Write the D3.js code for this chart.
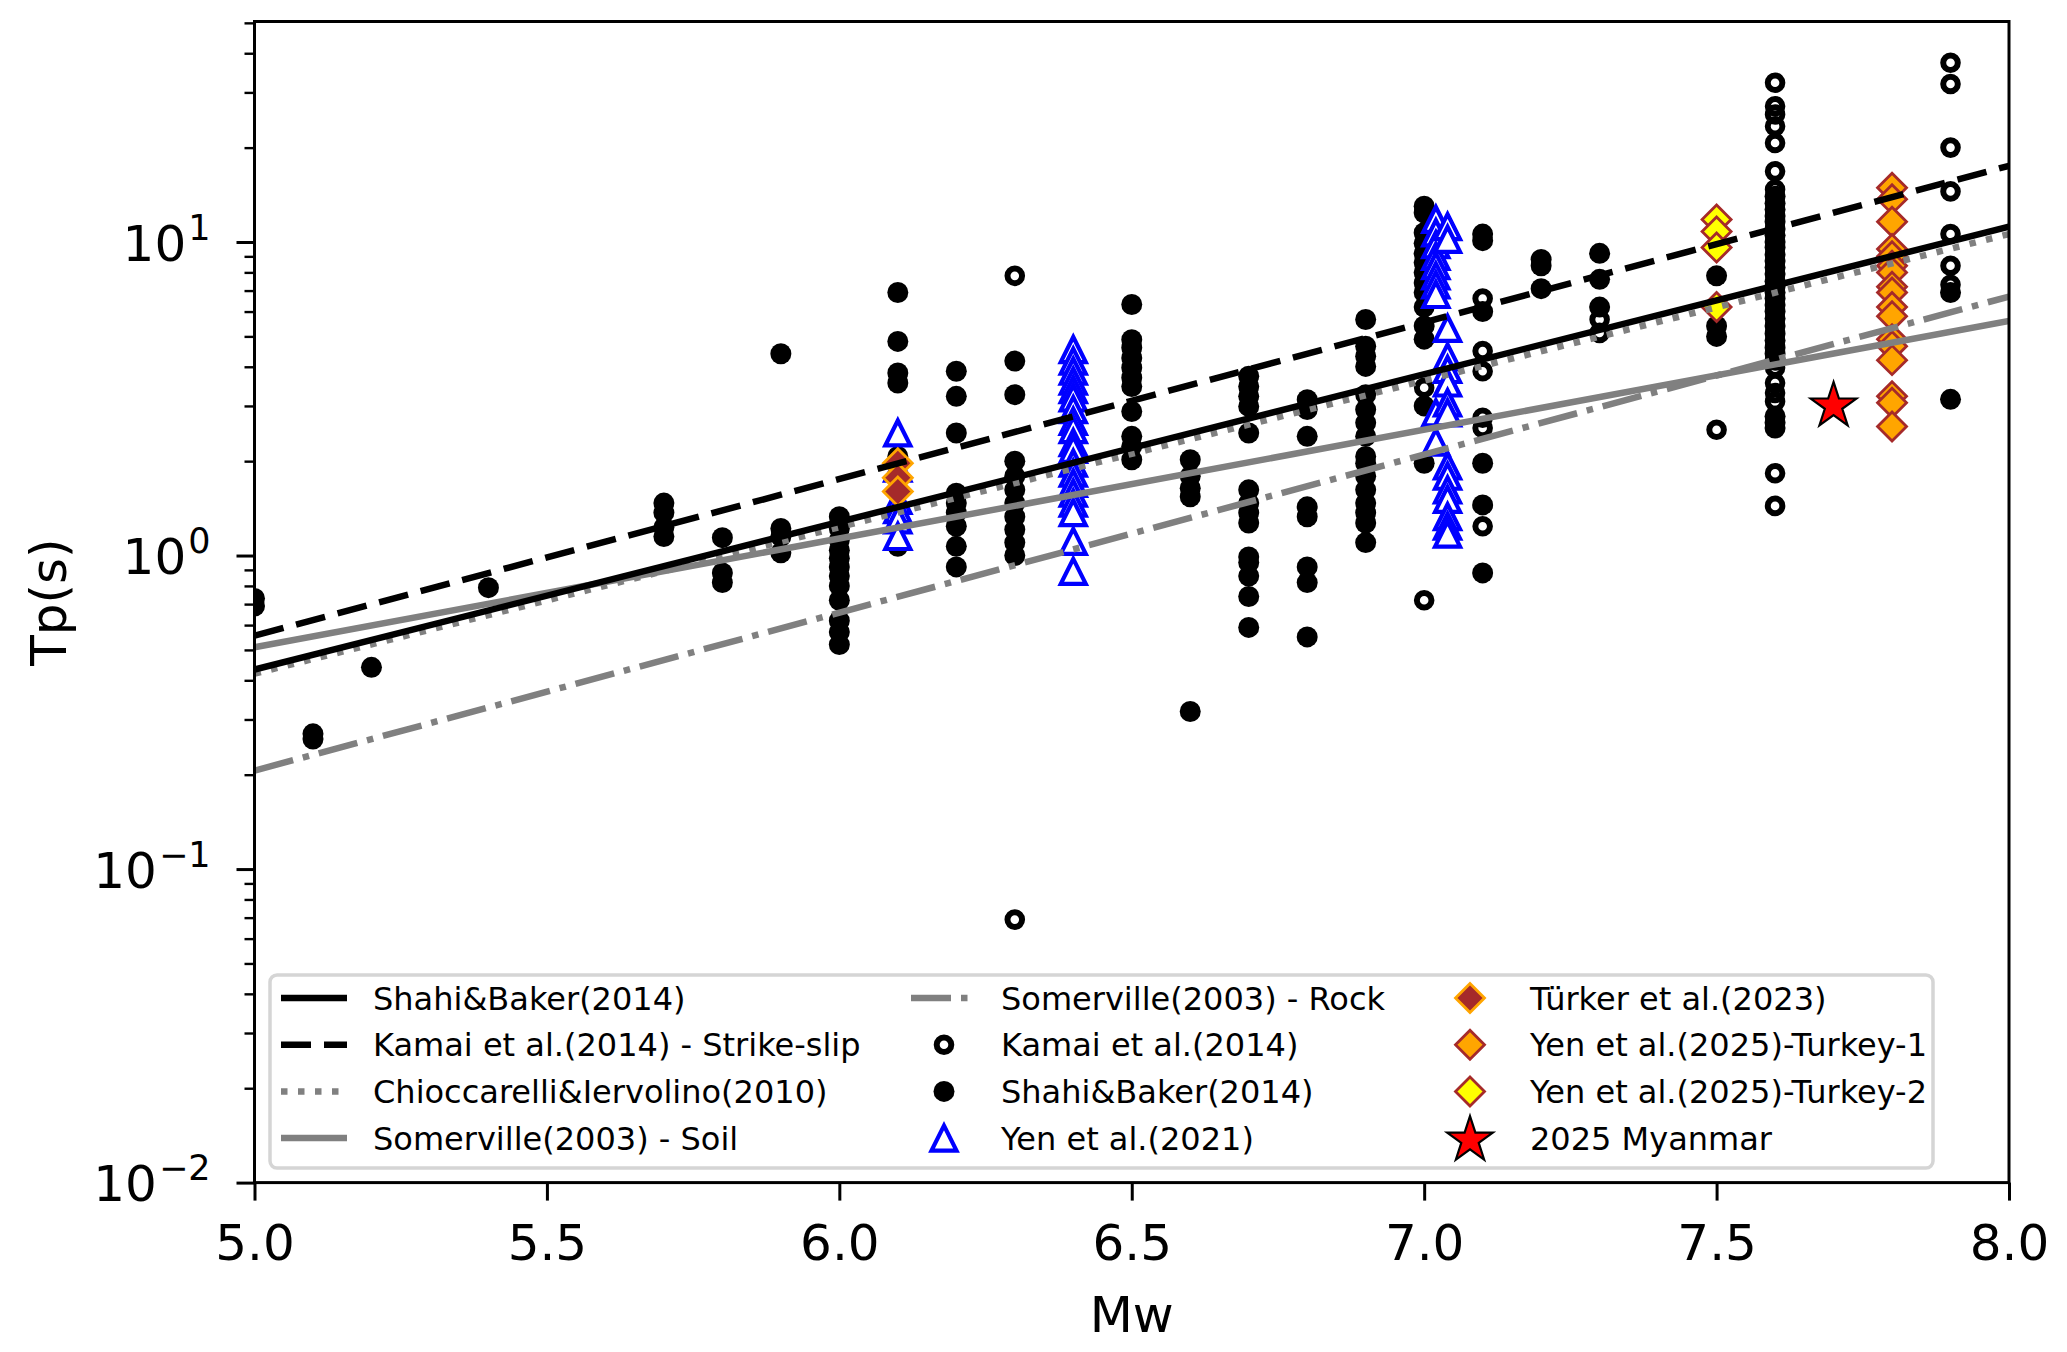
<!DOCTYPE html>
<html><head><meta charset="utf-8">
<script src="https://cdn.jsdelivr.net/npm/d3@7"></script>
<style>html,body{margin:0;padding:0;background:#fff;} svg{display:block;} text{font-family:"DejaVu Sans",sans-serif;}</style>
</head><body>
<svg id="chart" width="2067" height="1352"></svg>
<script>
// ---------- data ----------
const xTicks = [5.0, 5.5, 6.0, 6.5, 7.0, 7.5, 8.0];
const yMajorTicks = [0.01, 0.1, 1, 10];
const yTickExp = ["\u22122", "\u22121", "0", "1"];

// fitted relations: [Mw, Tp] at both ends
const shahiLine = [[5.0, 0.433], [8.0, 11.2]];
const kamaiLine = [[5.0, 0.555], [8.0, 17.5]];
const chiocLine = [[5.0, 0.42], [8.0, 10.6]];
const somSoilLine = [[5.0, 0.51], [8.0, 5.6]];
const somRockLine = [[5.0, 0.206], [8.0, 6.7]];

// Kamai et al.(2014) records (open circles)
const kamaiPts = [
  [6.3, 7.8], [6.3, 0.069],
  [7.0, 3.43], [7.0, 0.72],
  [7.1, 6.6], [7.1, 4.49], [7.1, 3.87], [7.1, 2.75], [7.1, 2.55], [7.1, 1.24],
  [7.3, 5.66], [7.3, 5.13],
  [7.5, 2.52],
  [7.6, 32.2], [7.6, 27.1], [7.6, 25.5], [7.6, 23.4], [7.6, 20.7], [7.6, 16.8], [7.6, 14.7],
  [7.6, 3.97], [7.6, 3.55], [7.6, 3.3], [7.6, 3.1], [7.6, 1.83], [7.6, 1.44],
  [7.9, 37.3], [7.9, 31.9], [7.9, 20.0], [7.9, 14.5], [7.9, 10.6], [7.9, 8.4], [7.9, 7.3]
];

// Shahi&Baker(2014) records (filled circles)
const shahiPts = [
  [5.0, 0.73], [5.0, 0.69],
  [5.1, 0.27], [5.1, 0.26],
  [5.2, 0.44],
  [5.4, 0.79],
  [5.7, 1.47], [5.7, 1.37], [5.7, 1.23], [5.7, 1.15],
  [5.8, 1.14], [5.8, 0.88], [5.8, 0.82],
  [5.9, 4.4], [5.9, 1.22], [5.9, 1.15], [5.9, 1.02],
  [6.0, 1.33], [6.0, 1.22], [6.0, 1.12], [6.0, 1.04], [6.0, 0.98], [6.0, 0.92], [6.0, 0.86],
  [6.0, 0.80], [6.0, 0.72], [6.0, 0.62], [6.0, 0.57], [6.0, 0.52],
  [6.1, 6.9], [6.1, 4.82], [6.1, 3.82], [6.1, 3.55], [6.1, 2.07], [6.1, 1.07],
  [6.2, 3.87], [6.2, 3.22], [6.2, 2.46], [6.2, 1.58], [6.2, 1.47], [6.2, 1.37], [6.2, 1.24], [6.2, 1.07], [6.2, 0.92],
  [6.3, 4.17], [6.3, 3.26], [6.3, 2.0], [6.3, 1.79], [6.3, 1.62], [6.3, 1.47], [6.3, 1.33], [6.3, 1.21], [6.3, 1.1], [6.3, 1.0],
  [6.5, 6.32], [6.5, 4.88], [6.5, 4.6], [6.5, 4.27], [6.5, 3.97], [6.5, 3.69], [6.5, 3.46], [6.5, 2.88], [6.5, 2.4], [6.5, 2.23], [6.5, 2.02],
  [6.6, 2.02], [6.6, 1.79], [6.6, 1.64], [6.6, 1.54], [6.6, 0.318],
  [6.7, 3.73], [6.7, 3.46], [6.7, 3.22], [6.7, 2.99], [6.7, 2.46], [6.7, 1.62], [6.7, 1.47], [6.7, 1.37], [6.7, 1.27],
  [6.7, 0.99], [6.7, 0.95], [6.7, 0.86], [6.7, 0.74], [6.7, 0.59],
  [6.8, 3.14], [6.8, 2.92], [6.8, 2.4], [6.8, 1.43], [6.8, 1.33], [6.8, 0.92], [6.8, 0.82], [6.8, 0.55],
  [6.9, 5.66], [6.9, 4.65], [6.9, 4.32], [6.9, 4.01], [6.9, 3.26], [6.9, 2.92], [6.9, 2.65], [6.9, 2.4], [6.9, 2.07],
  [6.9, 1.97], [6.9, 1.79], [6.9, 1.62], [6.9, 1.47], [6.9, 1.37], [6.9, 1.27], [6.9, 1.1],
  [7.0, 13.0], [7.0, 12.4], [7.0, 10.7], [7.0, 9.9], [7.0, 9.2], [7.0, 8.6], [7.0, 8.0], [7.0, 7.4], [7.0, 6.9],
  [7.0, 6.2], [7.0, 5.4], [7.0, 4.9], [7.0, 3.0], [7.0, 1.97],
  [7.1, 10.6], [7.1, 10.1], [7.1, 6.0], [7.1, 1.97], [7.1, 1.45], [7.1, 0.88],
  [7.2, 8.8], [7.2, 8.4], [7.2, 7.1],
  [7.3, 9.2], [7.3, 7.6], [7.3, 6.2],
  [7.5, 7.8], [7.5, 5.4], [7.5, 5.0],
  [7.6, 14.0], [7.6, 13.3], [7.6, 12.7], [7.6, 12.1], [7.6, 11.6], [7.6, 11.0], [7.6, 10.5], [7.6, 10.0],
  [7.6, 9.6], [7.6, 9.1], [7.6, 8.7], [7.6, 8.3], [7.6, 7.9], [7.6, 7.5], [7.6, 7.2], [7.6, 6.9], [7.6, 6.6],
  [7.6, 6.3], [7.6, 6.0], [7.6, 5.7], [7.6, 5.4], [7.6, 5.1], [7.6, 4.85], [7.6, 4.6], [7.6, 4.4], [7.6, 4.2],
  [7.6, 2.78], [7.6, 2.65], [7.6, 2.55],
  [7.9, 6.9], [7.9, 3.15]
];

// Yen et al.(2021) (open blue triangles)
const yen2021Pts = [
  [6.1, 2.46], [6.1, 1.9], [6.1, 1.5], [6.1, 1.4], [6.1, 1.3], [6.1, 1.15],
  [6.4, 4.54], [6.4, 4.17], [6.4, 3.87], [6.4, 3.6], [6.4, 3.38], [6.4, 3.18], [6.4, 2.92], [6.4, 2.68], [6.4, 2.52],
  [6.4, 2.29], [6.4, 2.18], [6.4, 1.97], [6.4, 1.83], [6.4, 1.70], [6.4, 1.58], [6.4, 1.47], [6.4, 1.37], [6.4, 1.11], [6.4, 0.89],
  [7.02, 11.8], [7.02, 10.7], [7.02, 9.8], [7.02, 9.0], [7.02, 8.4], [7.02, 7.8], [7.02, 7.3], [7.02, 6.8], [7.02, 2.85], [7.02, 2.3],
  [7.04, 11.2], [7.04, 10.2], [7.04, 5.3], [7.04, 4.3], [7.04, 3.92], [7.04, 3.55], [7.04, 3.07], [7.04, 2.85],
  [7.04, 1.93], [7.04, 1.79], [7.04, 1.62], [7.04, 1.51], [7.04, 1.33], [7.04, 1.24], [7.04, 1.17]
];

// Türker et al.(2023)
const turkerPts = [[6.1, 1.97], [6.1, 1.77], [6.1, 1.60]];
// Yen et al.(2025)-Turkey-1
const turkey1Pts = [
  [7.8, 14.9], [7.8, 13.7], [7.8, 11.6], [7.8, 9.5], [7.8, 9.0], [7.8, 8.4], [7.8, 8.0], [7.8, 7.2], [7.8, 6.9],
  [7.8, 6.2], [7.8, 5.8], [7.8, 4.9], [7.8, 4.65], [7.8, 4.2], [7.8, 3.22], [7.8, 3.07], [7.8, 2.58]
];
// Yen et al.(2025)-Turkey-2
const turkey2Pts = [[7.5, 11.8], [7.5, 10.8], [7.5, 9.6], [7.5, 6.2]];
// 2025 Myanmar
const myanmarPts = [[7.7, 3.0]];

const legendLabels = [
  "Shahi&Baker(2014)", "Kamai et al.(2014) - Strike-slip", "Chioccarelli&Iervolino(2010)", "Somerville(2003) - Soil",
  "Somerville(2003) - Rock", "Kamai et al.(2014)", "Shahi&Baker(2014)", "Yen et al.(2021)",
  "Türker et al.(2023)", "Yen et al.(2025)-Turkey-1", "Yen et al.(2025)-Turkey-2", "2025 Myanmar"
];

// ---------- drawing ----------
const svg = d3.select("#chart");
const L = 254.5, R = 2009, T = 21.5, B = 1182.6;
const x = d3.scaleLinear().domain([5, 8]).range([L, R]);
const y = d3.scaleLog().domain([0.01, 50.5]).range([B, T]);

const defs = svg.append("defs");
defs.append("clipPath").attr("id", "plotclip").append("rect")
  .attr("x", L).attr("y", T).attr("width", R - L).attr("height", B - T);

const plot = svg.append("g").attr("clip-path", "url(#plotclip)");

const LW = 6.5;
const RING_R = 7.3, RING_W = 6, DOT_R = 10.5;
// marker shapes
const triPath = "M0,-12.5L12.5,12.5L-12.5,12.5Z";
const diaPath = "M0,-14.5L14.5,0L0,14.5L-14.5,0Z";
const starPath = d3.symbol(d3.symbolStar, 647)();

// scatter (drawn first, lines on top)
plot.append("g").selectAll("circle").data(kamaiPts).join("circle")
  .attr("cx", d => x(d[0])).attr("cy", d => y(d[1])).attr("r", RING_R)
  .attr("fill", "none").attr("stroke", "#000").attr("stroke-width", RING_W);

plot.append("g").selectAll("circle").data(shahiPts).join("circle")
  .attr("cx", d => x(d[0])).attr("cy", d => y(d[1])).attr("r", DOT_R)
  .attr("fill", "#000");

plot.append("g").selectAll("path").data(yen2021Pts).join("path")
  .attr("d", triPath).attr("transform", d => `translate(${x(d[0])},${y(d[1])})`)
  .attr("fill", "#fff").attr("stroke", "#0000ff").attr("stroke-width", 4.2).attr("stroke-linejoin", "miter");

function diamonds(data, fill, edge) {
  plot.append("g").selectAll("path").data(data).join("path")
    .attr("d", diaPath).attr("transform", d => `translate(${x(d[0])},${y(d[1])})`)
    .attr("fill", fill).attr("stroke", edge).attr("stroke-width", 2.8);
}
diamonds(turkerPts, "#a52a2a", "#ffa500");
diamonds(turkey1Pts, "#ffa500", "#a52a2a");
diamonds(turkey2Pts, "#ffff00", "#a52a2a");

plot.append("g").selectAll("path").data(myanmarPts).join("path")
  .attr("d", starPath).attr("transform", d => `translate(${x(d[0])},${y(d[1])})`)
  .attr("fill", "#ff0000").attr("stroke", "#000").attr("stroke-width", 2.2);

// lines
const line = d3.line().x(d => x(d[0])).y(d => y(d[1]));
const lineStyles = [
  {data: somRockLine, color: "#808080", dash: "40,10,6.5,10"},
  {data: somSoilLine, color: "#808080", dash: null},
  {data: chiocLine, color: "#808080", dash: "6.5,10.5"},
  {data: kamaiLine, color: "#000", dash: "30,13"},
  {data: shahiLine, color: "#000", dash: null}
];
lineStyles.forEach(s => {
  plot.append("path").attr("d", line(s.data)).attr("fill", "none")
    .attr("stroke", s.color).attr("stroke-width", LW)
    .attr("stroke-dasharray", s.dash).attr("stroke-linecap", "butt");
});

// spines
svg.append("rect").attr("x", L).attr("y", T).attr("width", R - L).attr("height", B - T)
  .attr("fill", "none").attr("stroke", "#000").attr("stroke-width", 3);

// x axis
const xAxis = svg.append("g").attr("transform", `translate(0,${B})`)
  .call(d3.axisBottom(x).tickValues(xTicks).tickSize(18).tickPadding(23).tickFormat(d3.format(".1f")));
xAxis.select(".domain").remove();
xAxis.selectAll(".tick line").attr("stroke", "#000").attr("stroke-width", 3);
xAxis.selectAll(".tick text").attr("font-size", 50).attr("fill", "#000")
  .attr("font-family", "DejaVu Sans").attr("dy", "0.72em");

// y axis minor ticks
const minorVals = [];
[0.01, 0.1, 1, 10].forEach(dec => { for (let k = 2; k <= 9; k++) { const v = dec * k; if (v <= 50.5) minorVals.push(v); } });
const yMinor = svg.append("g").attr("transform", `translate(${L},0)`)
  .call(d3.axisLeft(y).tickValues(minorVals).tickSize(10).tickFormat(""));
yMinor.select(".domain").remove();
yMinor.selectAll(".tick line").attr("stroke", "#000").attr("stroke-width", 2.4);

// y axis major ticks
const yMajor = svg.append("g").attr("transform", `translate(${L},0)`)
  .call(d3.axisLeft(y).tickValues(yMajorTicks).tickSize(18).tickFormat(""));
yMajor.select(".domain").remove();
yMajor.selectAll(".tick line").attr("stroke", "#000").attr("stroke-width", 3);
yMajor.selectAll(".tick").each(function(d, i) {
  const t = d3.select(this).append("text").attr("x", -44).attr("y", 18)
    .attr("text-anchor", "end").attr("fill", "#000").attr("font-size", 50);
  t.append("tspan").text("10");
  t.append("tspan").attr("dy", -21).attr("dx", 2).attr("font-size", 35).text(yTickExp[i]);
});

// axis labels
svg.append("text").attr("x", (L + R) / 2).attr("y", 1332).attr("text-anchor", "middle")
  .attr("font-size", 50).attr("fill", "#000").text("Mw");
svg.append("text").attr("transform", `translate(66,${(T + B) / 2}) rotate(-90)`)
  .attr("text-anchor", "middle").attr("font-size", 50).attr("fill", "#000").text("Tp(s)");

// legend
const lg = svg.append("g");
lg.append("rect").attr("x", 270).attr("y", 975).attr("width", 1663).attr("height", 193)
  .attr("rx", 7).attr("fill", "#fff").attr("fill-opacity", 0.8)
  .attr("stroke", "#d5d5d5").attr("stroke-width", 3.5);
const rowY = i => 998 + 46.7 * i;
const colHandle = [[281, 347], [911, 977], [1437, 1503]];
const colText = [373, 1001, 1530];
const handles = [
  {type: "line", color: "#000", dash: null},
  {type: "line", color: "#000", dash: "30,13"},
  {type: "line", color: "#808080", dash: "6.5,10.5"},
  {type: "line", color: "#808080", dash: null},
  {type: "line", color: "#808080", dash: "40,10,6.5,10"},
  {type: "ring"}, {type: "dot"}, {type: "tri"},
  {type: "dia", fill: "#a52a2a", edge: "#ffa500"},
  {type: "dia", fill: "#ffa500", edge: "#a52a2a"},
  {type: "dia", fill: "#ffff00", edge: "#a52a2a"},
  {type: "star"}
];
handles.forEach((h, i) => {
  const col = Math.floor(i / 4), row = i % 4;
  const cy = rowY(row);
  const [hx0, hx1] = colHandle[col];
  const cx = (hx0 + hx1) / 2;
  if (h.type === "line") {
    lg.append("line").attr("x1", hx0).attr("x2", hx1).attr("y1", cy).attr("y2", cy)
      .attr("stroke", h.color).attr("stroke-width", LW).attr("stroke-dasharray", h.dash);
  } else if (h.type === "ring") {
    lg.append("circle").attr("cx", cx).attr("cy", cy).attr("r", RING_R).attr("fill", "none")
      .attr("stroke", "#000").attr("stroke-width", RING_W);
  } else if (h.type === "dot") {
    lg.append("circle").attr("cx", cx).attr("cy", cy).attr("r", DOT_R).attr("fill", "#000");
  } else if (h.type === "tri") {
    lg.append("path").attr("d", triPath).attr("transform", `translate(${cx},${cy})`)
      .attr("fill", "#fff").attr("stroke", "#0000ff").attr("stroke-width", 4.2);
  } else if (h.type === "dia") {
    lg.append("path").attr("d", diaPath).attr("transform", `translate(${cx},${cy})`)
      .attr("fill", h.fill).attr("stroke", h.edge).attr("stroke-width", 2.8);
  } else if (h.type === "star") {
    lg.append("path").attr("d", starPath).attr("transform", `translate(${cx},${cy + 2})`)
      .attr("fill", "#ff0000").attr("stroke", "#000").attr("stroke-width", 2.2);
  }
  lg.append("text").attr("x", colText[col]).attr("y", cy + 11.5).attr("font-size", 32)
    .attr("fill", "#000").text(legendLabels[i]);
});
</script>
</body></html>
